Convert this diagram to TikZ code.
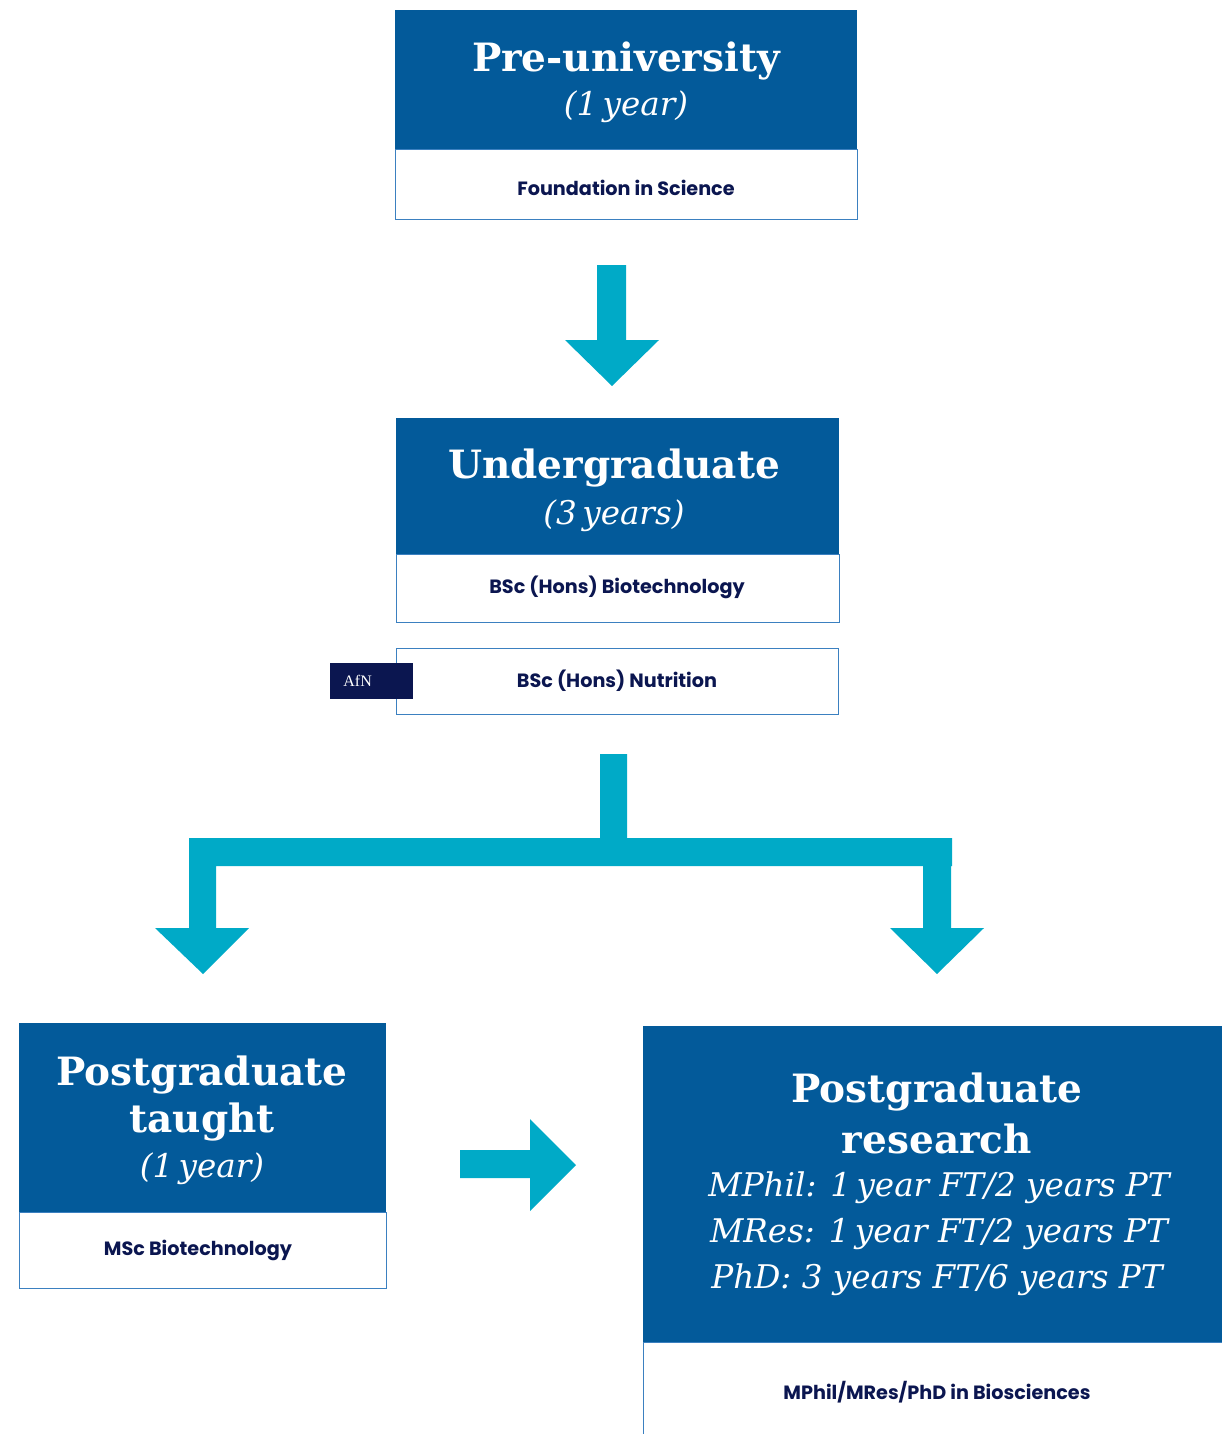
\documentclass[tikz,border=0pt]{standalone}
\usepackage{fontspec}
\newfontfamily\slab{DejaVu Serif}
\newfontfamily\labfont{Poppins}
\newfontfamily\afnfont{Liberation Serif}
\definecolor{hdrblue}{HTML}{035A9A}
\definecolor{edgeblue}{HTML}{3B80C0}
\definecolor{arrowcyan}{HTML}{00AAC7}
\definecolor{navy}{HTML}{0B1650}
\begin{document}
\begin{tikzpicture}[x=0.5pt,y=-0.5pt,
  hdr/.style={fill=hdrblue, draw=none, inner sep=0pt},
  body/.style={fill=white, draw=edgeblue, line width=0.7pt, inner sep=0pt},
  title/.style={text=white, font=\slab\bfseries\fontsize{19.5}{22}\selectfont, inner sep=0pt},
  dur/.style={text=white, font=\slab\itshape\fontsize{16.3}{19}\selectfont, inner sep=0pt},
  lab/.style={text=navy, font=\labfont\bfseries\fontsize{9.6}{11}\selectfont, inner sep=0pt},
  blockarrow/.style={fill=arrowcyan, draw=none}]
\useasboundingbox (0,0) rectangle (1221,1434);
% Pre-university
\node[body, minimum width=231pt, minimum height=35pt, anchor=north west] (prebody) at (395,149) {};
\node[hdr, minimum width=231pt, minimum height=69.5pt, anchor=north west] (prehdr) at (395,10) {};
\node[title] (pretitle) at (626,61) {Pre-university};
\node[dur] (predur) at (626,107) {(1\,year)};
\node[lab] (prelab) at (626,188) {Foundation in Science};
% Arrow 1
\fill[blockarrow] (597,265) -- (626,265) -- (626,340) -- (659,340) -- (612,386) -- (565,340) -- (597,340) -- cycle;
% Undergraduate
\node[body, minimum width=221.5pt, minimum height=34pt, anchor=north west] (ugbody) at (396,554) {};
\node[hdr, minimum width=221.5pt, minimum height=68pt, anchor=north west] (ughdr) at (396,418) {};
\node[title] (ugtitle) at (614,468) {Undergraduate};
\node[dur] (ugdur) at (614,516) {(3\,years)};
\node[lab] (uglab) at (617,587) {BSc (Hons) Biotechnology};
% Nutrition
\node[body, minimum width=221pt, minimum height=33pt, anchor=north west] (nutbody) at (396,648) {};
\node[fill=navy, minimum width=41.5pt, minimum height=18pt, inner sep=0pt, anchor=north west] (afn) at (330,663) {};
\node[text=white, font=\afnfont\fontsize{8}{9}\selectfont, anchor=west, inner sep=0pt] (afntext) at (343,681) {AfN};
\node[lab] (nutlab) at (617,681) {BSc (Hons) Nutrition};
% Branch arrow
\fill[blockarrow] (600,754) -- (627,754) -- (627,838) -- (952,838) -- (952,866) -- (951,866) -- (951,928) -- (984,928) -- (937,974) -- (890,928) -- (923,928) -- (923,866) -- (216,866) -- (216,928) -- (249,928) -- (203,974) -- (155,928) -- (189,928) -- (189,838) -- (600,838) -- cycle;
% Postgraduate taught
\node[body, minimum width=183.5pt, minimum height=38pt, anchor=north west] (pgtbody) at (19,1212) {};
\node[hdr, minimum width=183.5pt, minimum height=94.5pt, anchor=north west] (pgthdr) at (19,1023) {};
\node[title] (pgttitle1) at (202,1075) {Postgraduate};
\node[title] (pgttitle2) at (202,1122) {taught};
\node[dur] (pgtdur) at (202,1169) {(1\,year)};
\node[lab] (pgtlab) at (198,1250) {MSc Biotechnology};
% Right arrow
\fill[blockarrow] (460,1150) -- (530,1150) -- (530,1119) -- (576,1165) -- (530,1211) -- (530,1178) -- (460,1178) -- cycle;
% Postgraduate research
\node[body, minimum width=300pt, minimum height=60pt, anchor=north west] (pgrbody) at (643,1342) {};
\node[hdr, minimum width=300pt, minimum height=158pt, anchor=north west] (pgrhdr) at (643,1026) {};
\node[title] (pgrtitle1) at (937,1092) {Postgraduate};
\node[title] (pgrtitle2) at (937,1139) {research};
\node[dur] (pgrl1) at (939,1188) {MPhil: 1\,year FT/2 years PT};
\node[dur] (pgrl2) at (939,1234) {MRes: 1\,year FT/2 years PT};
\node[dur] (pgrl3) at (937,1280) {PhD: 3 years FT/6 years PT};
\node[lab] (pgrlab) at (937,1392) {MPhil/MRes/PhD in Biosciences};
\end{tikzpicture}
\end{document}
